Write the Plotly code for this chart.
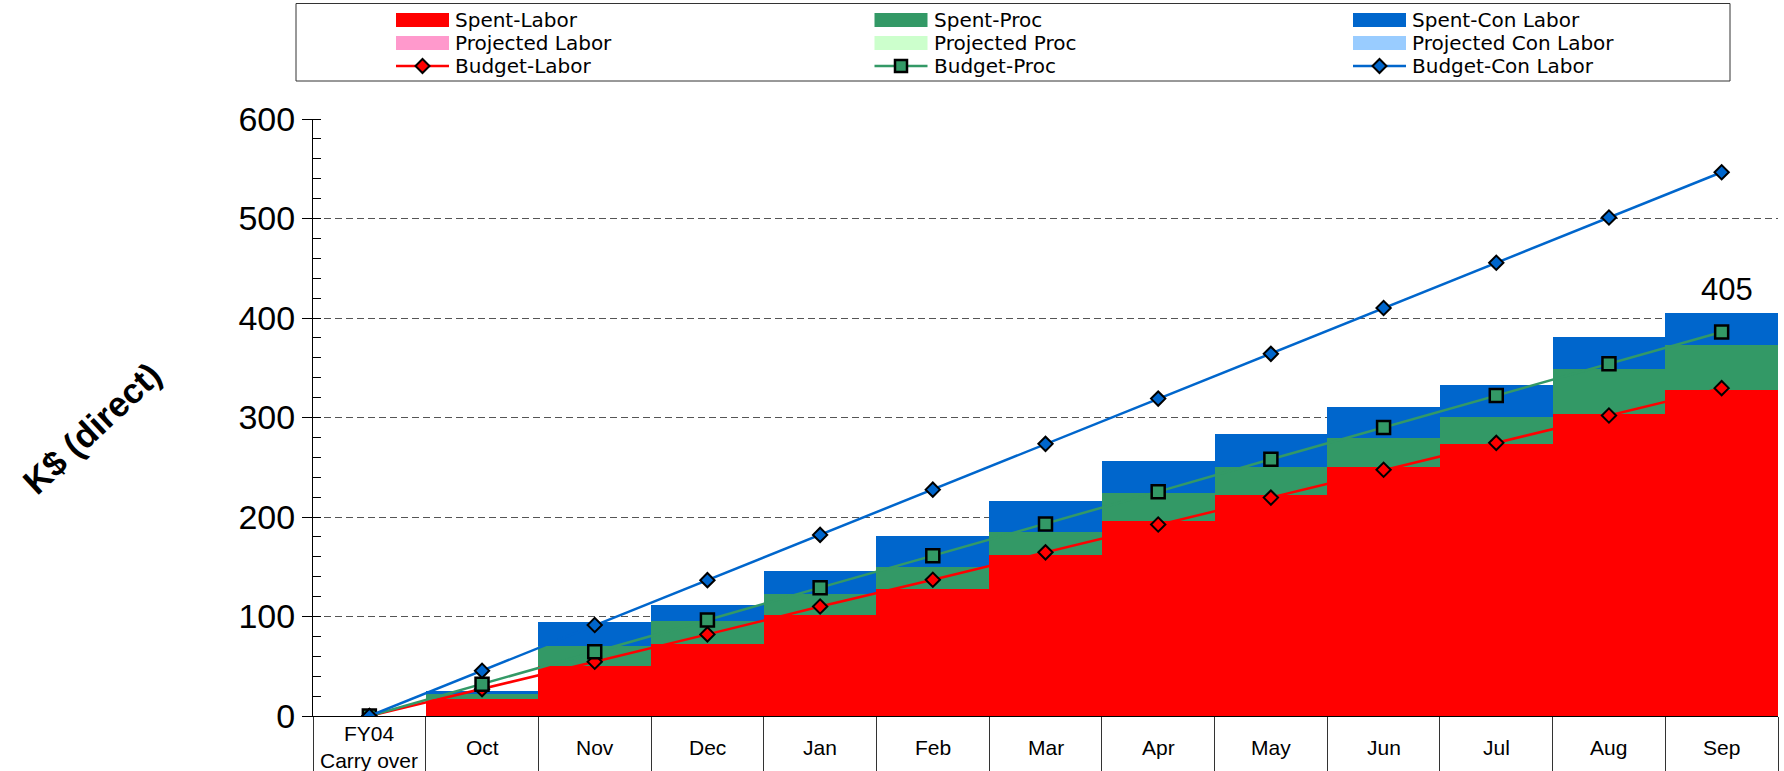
import plotly.graph_objects as go

# ---------------- data ----------------
categories = ["FY04<br>Carry over", "Oct", "Nov", "Dec", "Jan", "Feb", "Mar",
              "Apr", "May", "Jun", "Jul", "Aug", "Sep"]

spent_labor = [0, 17.5, 50, 72, 102, 128, 162, 196, 222.5, 250.5, 273, 304, 327.5]
spent_proc = [0, 4.5, 20, 23, 20.5, 22, 22.5, 28.5, 28, 28.5, 28, 44.5, 45]
spent_con = [0, 3, 24.5, 16.5, 23.5, 31, 32, 32, 32.5, 32, 32, 32, 32.5]

proj_labor = [0, 0, 0, 0, 0, 0, 0, 0, 0, 0, 0, 0, 0]
proj_proc = [0, 0, 0, 0, 0, 0, 0, 0, 0, 0, 0, 0, 0]
proj_con = [0, 0, 0, 0, 0, 0, 0, 0, 0, 0, 0, 0, 0]

budget_labor = [0, 27, 54.5, 82, 110, 137, 164.5, 192.5, 219.5, 247.5, 274.5, 302, 329.5]
budget_proc = [0, 32, 64.5, 96.5, 129, 161, 193, 225.5, 258, 290, 322, 354, 386]
budget_con = [0, 45.5, 91.5, 136.5, 182, 227.5, 273.5, 319, 364, 410, 455.5, 501, 546.5]

y_ticks = [0, 100, 200, 300, 400, 500, 600]
y_title = "K$ (direct)"

# ---------------- styles ----------------
FONT = "Liberation Sans, Arial, sans-serif"
LEG_FONT = "DejaVu Sans, Liberation Sans, sans-serif"
RED, GREEN, BLUE = "#FF0000", "#339966", "#0066CC"
PINK, LGREEN, LBLUE = "#FF99CC", "#CCFFCC", "#99CCFF"

W, H = 1784, 771
ML, MR, MT, MB = 313, 6, 119, 55
PW, PH = W - ML - MR, H - MT - MB


def fx(px):
    return (px - ML) / PW


def fy(py):
    return (H - MB - py) / PH


fig = go.Figure()

bar_series = [
    ("Spent-Labor", spent_labor, RED),
    ("Spent-Proc", spent_proc, GREEN),
    ("Spent-Con Labor", spent_con, BLUE),
    ("Projected Labor", proj_labor, PINK),
    ("Projected Proc", proj_proc, LGREEN),
    ("Projected Con Labor", proj_con, LBLUE),
]
for name, vals, col in bar_series:
    fig.add_trace(go.Bar(x=categories, y=vals, name=name, marker=dict(color=col, line=dict(width=0)),
                         showlegend=False))

line_series = [
    ("Budget-Labor", budget_labor, RED, "diamond", 11, 2),
    ("Budget-Proc", budget_proc, GREEN, "square", 13, 2.5),
    ("Budget-Con Labor", budget_con, BLUE, "diamond", 11, 2),
]
for name, vals, col, sym, sz, lw in line_series:
    fig.add_trace(go.Scatter(x=categories, y=vals, name=name, mode="lines+markers",
                             line=dict(color=col, width=2.5),
                             marker=dict(symbol=sym, size=sz, color=col, line=dict(color="black", width=lw)),
                             showlegend=False))

annotations = []
shapes = []

# category labels under the axis
for c in categories:
    annotations.append(dict(x=c, xref="x", y=0, yref="paper", yshift=-31, text=c, showarrow=False,
                            xanchor="center", yanchor="middle", font=dict(size=21, color="black", family=FONT)))

# total label on last bar
total = spent_labor[-1] + spent_proc[-1] + spent_con[-1]
annotations.append(dict(x=categories[-1], y=total, xref="x", yref="y", text=f"{total:.0f}", showarrow=False,
                        xanchor="center", yanchor="bottom", xshift=5, yshift=4,
                        font=dict(size=31, color="black", family=FONT)))

# y axis title
annotations.append(dict(x=fx(91), y=fy(428), xref="paper", yref="paper", text="<b>" + y_title + "</b>",
                        showarrow=False, textangle=-43, xanchor="center", yanchor="middle",
                        font=dict(size=35, color="black", family=FONT)))

# ---------------- manual legend ----------------
shapes.append(dict(type="rect", xref="paper", yref="paper", x0=fx(296), x1=fx(1730), y0=fy(81), y1=fy(3.5),
                   line=dict(color="#333333", width=1), fillcolor="white", layer="above"))
col_left = [396, 874.5, 1353]
row_mid = [20, 43, 66]
legend_items = [
    ("Spent-Labor", "rect", RED, None), ("Spent-Proc", "rect", GREEN, None), ("Spent-Con Labor", "rect", BLUE, None),
    ("Projected Labor", "rect", PINK, None), ("Projected Proc", "rect", LGREEN, None),
    ("Projected Con Labor", "rect", LBLUE, None),
    ("Budget-Labor", "line", RED, "diamond"), ("Budget-Proc", "line", GREEN, "square"),
    ("Budget-Con Labor", "line", BLUE, "diamond"),
]
for i, (name, kind, col, sym) in enumerate(legend_items):
    left = col_left[i % 3]
    ym = row_mid[i // 3]
    if kind == "rect":
        shapes.append(dict(type="rect", xref="paper", yref="paper", x0=fx(left), x1=fx(left + 53),
                           y0=fy(ym + 7), y1=fy(ym - 7), line=dict(width=0), fillcolor=col, layer="above"))
    else:
        shapes.append(dict(type="line", xref="paper", yref="paper", x0=fx(left), x1=fx(left + 53),
                           y0=fy(ym), y1=fy(ym), line=dict(color=col, width=2.5), layer="above"))
        if sym == "diamond":
            path = "M0,-7L7,0L0,7L-7,0Z"
            lw = 2
        else:
            path = "M-6,-6L6,-6L6,6L-6,6Z"
            lw = 2.5
        shapes.append(dict(type="path", xref="paper", yref="paper", xsizemode="pixel", ysizemode="pixel",
                           xanchor=fx(left + 26.5), yanchor=fy(ym), path=path, fillcolor=col,
                           line=dict(color="black", width=lw), layer="above"))
    annotations.append(dict(x=fx(left + 58), y=fy(ym), xref="paper", yref="paper", text=name, showarrow=False,
                            xanchor="left", yanchor="middle", borderpad=0,
                            font=dict(size=20, color="black", family=LEG_FONT)))

fig.update_layout(
    width=W, height=H,
    margin=dict(l=ML, r=MR, t=MT, b=MB, pad=0, autoexpand=False),
    paper_bgcolor="white", plot_bgcolor="white",
    barmode="stack", bargap=0,
    showlegend=False,
    font=dict(family=FONT, color="black"),
    annotations=annotations,
    shapes=shapes,
    xaxis=dict(type="category", range=[-0.5, 12.5], showline=True, linecolor="black", linewidth=1,
               ticks="outside", tickson="boundaries", ticklen=56, tickcolor="#333333", tickwidth=1,
               showticklabels=False, showgrid=False, zeroline=False, automargin=False),
    yaxis=dict(range=[0, 600], tickvals=y_ticks, showline=True, linecolor="black", linewidth=1,
               ticks="outside", ticklen=10, tickcolor="black", tickfont=dict(size=34, family=FONT, color="black"),
               showgrid=True, gridcolor="#555555", gridwidth=1, griddash="7px,4px", zeroline=False,
               automargin=False,
               minor=dict(dtick=20, ticks="inside", ticklen=8, tickcolor="black", showgrid=False)),
)

fig.write_html("out.html", config={"displayModeBar": False},
               post_script="document.body.style.margin='0px';document.body.style.overflow='hidden';")
